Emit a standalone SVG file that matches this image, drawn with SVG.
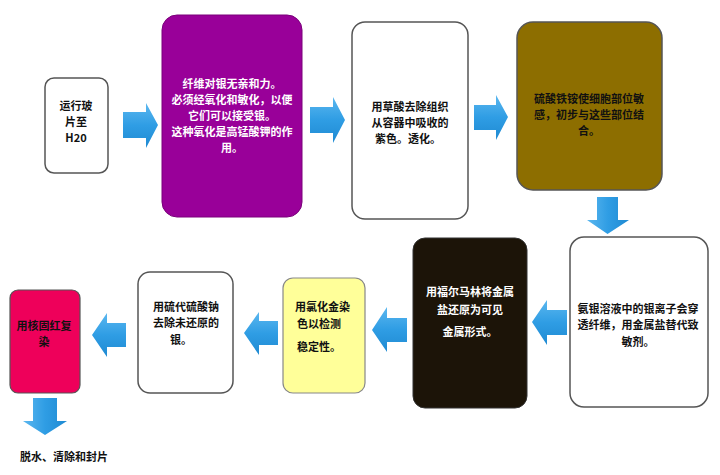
<svg xmlns="http://www.w3.org/2000/svg" width="720" height="475" viewBox="0 0 720 475">
<defs>
<linearGradient id="ah" x1="0" y1="0" x2="0" y2="1"><stop offset="0" stop-color="#5bb7ef"/><stop offset="0.5" stop-color="#2f9de4"/><stop offset="1" stop-color="#1f8ad2"/></linearGradient>
<linearGradient id="av" x1="0" y1="0" x2="1" y2="0"><stop offset="0" stop-color="#5bb7ef"/><stop offset="0.5" stop-color="#2f9de4"/><stop offset="1" stop-color="#1f8ad2"/></linearGradient>
</defs>
<style>
.box{stroke:#555;stroke-width:1.5}
.t{font-family:"Noto Sans CJK SC","Liberation Serif",sans-serif;font-size:11px;font-weight:bold;text-anchor:middle}
.w{fill:#fff}
.k{fill:#111}
.arh{fill:url(#ah)}
.arv{fill:url(#av)}
</style>
<rect width="720" height="475" fill="#fff"/>
<g id="n1"><rect class="box" x="45" y="78" width="63" height="95" rx="9" fill="#fff"/>
<text class="t k" x="76"><tspan x="76" y="110">运行玻</tspan><tspan x="76" y="126">片至</tspan><tspan x="76" y="142">H20</tspan></text></g>
<g id="n2"><rect x="162" y="15" width="140" height="202" rx="15" fill="#990099" stroke="#7a007a" stroke-width="1"/>
<text class="t w"><tspan x="232" y="88">纤维对银无亲和力。</tspan><tspan x="232" y="104">必须经氧化和敏化，以便</tspan><tspan x="232" y="120">它们可以接受银。</tspan><tspan x="232" y="136">这种氧化是高锰酸钾的作</tspan><tspan x="232" y="152">用。</tspan></text></g>
<g id="n3"><rect class="box" x="352" y="22" width="116" height="197" rx="13" fill="#fff"/>
<text class="t k"><tspan x="410" y="111">用草酸去除组织</tspan><tspan x="410" y="127">从容器中吸收的</tspan><tspan x="408" y="143">紫色。透化。</tspan></text></g>
<g id="n4"><rect class="box" x="517" y="22" width="145" height="168" rx="16" fill="#8d6e00"/>
<text class="t k"><tspan x="589" y="103">硫酸铁铵使细胞部位敏</tspan><tspan x="589" y="119">感，初步与这些部位结</tspan><tspan x="589" y="135">合。</tspan></text></g>
<g id="n5"><rect class="box" x="570" y="237" width="138" height="170" rx="14" fill="#fff"/>
<text class="t k"><tspan x="638" y="313">氨银溶液中的银离子会穿</tspan><tspan x="638" y="329">透纤维，用金属盐替代致</tspan><tspan x="638" y="346">敏剂。</tspan></text></g>
<g id="n6"><rect x="413" y="238" width="114" height="170" rx="12" fill="#1c1408" stroke="#333" stroke-width="1"/>
<text class="t w"><tspan x="470" y="296">用福尔马林将金属</tspan><tspan x="470" y="314">盐还原为可见</tspan><tspan x="470" y="336">金属形式。</tspan></text></g>
<g id="n7"><rect x="283" y="278" width="82" height="115" rx="10" fill="#ffff99" stroke="#888" stroke-width="1.2"/>
<text class="t k" style="text-anchor:start"><tspan x="295" y="311">用氯化金染</tspan><tspan x="297" y="328">色以检测</tspan><tspan x="297" y="351">稳定性。</tspan></text></g>
<g id="n8"><rect class="box" x="138" y="272" width="95" height="121" rx="12" fill="#fff"/>
<text class="t k"><tspan x="186" y="311">用硫代硫酸钠</tspan><tspan x="186" y="327">去除未还原的</tspan><tspan x="181" y="344">银。</tspan></text></g>
<g id="n9"><rect x="10" y="290" width="70" height="103" rx="8" fill="#ee005a" stroke="#555" stroke-width="1.2"/>
<text class="t k"><tspan x="44" y="330">用核固红复</tspan><tspan x="44" y="346">染</tspan></text></g>
<g id="n10"><text class="t k" x="64" y="461">脱水、清除和封片</text></g>
<g id="connectors">
<path class="arh" d="M123 112H146V103L158 125L146 148V138H123Z"/>
<path class="arh" d="M310 107H333V97L345 120L333 143V133H310Z"/>
<path class="arh" d="M474 105H496V95L508 117L496 140V130H474Z"/>
<path class="arv" d="M597 197H618V220H629L607.5 234L587 220H597Z"/>
<path class="arh" d="M567 310H547V300L532 322L547 345V335H567Z"/>
<path class="arh" d="M407 318H387V307L372 330L387 352V342H407Z"/>
<path class="arh" d="M278 321H259V312L244 333L259 355V345H278Z"/>
<path class="arh" d="M126 323H107V313L92 335L107 357V347H126Z"/>
<path class="arv" d="M33 398H57V421H67L45 435L23 421H33Z"/>
</g>
</svg>
